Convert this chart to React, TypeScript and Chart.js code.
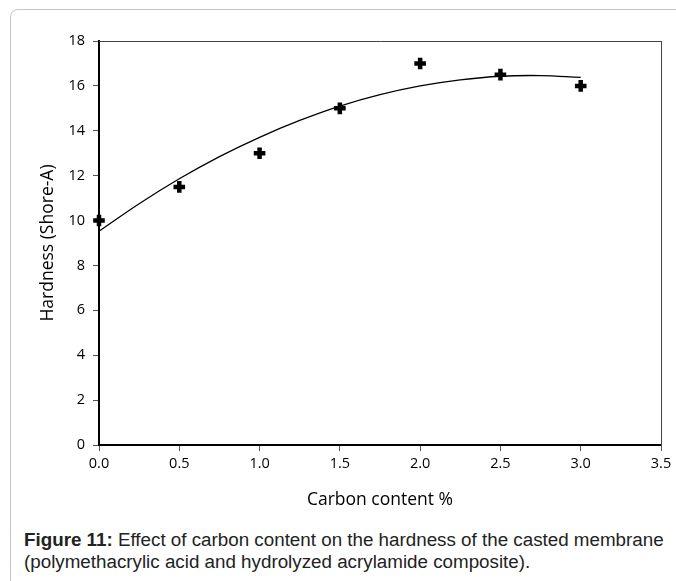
import React, { useEffect, useRef } from "react";
import { Chart, registerables } from "chart.js";

Chart.register(...registerables);

const carbonContent = [0, 0.5, 1.0, 1.5, 2.0, 2.5, 3.0];
const hardness = [10, 11.5, 13, 15, 17, 16.5, 16];

const trendX = [0, 0.25, 0.5, 0.75, 1.0, 1.25, 1.5, 1.75, 2.0, 2.25, 2.5, 2.75, 3.0];
const trendY = [9.52, 10.75, 11.86, 12.85, 13.71, 14.46, 15.1, 15.61, 16.0, 16.27, 16.43, 16.46, 16.38];

const xTicks = [0, 0.5, 1.0, 1.5, 2.0, 2.5, 3.0, 3.5];
const yTicks = [0, 2, 4, 6, 8, 10, 12, 14, 16, 18];

const xTitle = "Carbon content %";
const yTitle = "Hardness (Shore-A)";

const FONT = "'Open Sans', 'Noto Sans', sans-serif";

export default function App() {
  const ref = useRef<HTMLCanvasElement | null>(null);

  useEffect(() => {
    if (!ref.current) return;
    const chart = new Chart(ref.current, {
      type: "scatter",
      data: {
        datasets: [
          {
            label: "Hardness",
            data: carbonContent.map((x, i) => ({ x, y: hardness[i] })),
            pointStyle: "cross",
            pointRadius: 5.8,
            pointBorderWidth: 4.5,
            borderColor: "#000",
            backgroundColor: "#000",
            showLine: false,
            clip: false,
            order: 0,
          },
          {
            label: "Trend",
            data: trendX.map((x, i) => ({ x, y: trendY[i] })),
            showLine: true,
            pointRadius: 0,
            borderColor: "#000",
            borderWidth: 1.3,
            tension: 0.4,
            fill: false,
            order: 1,
          },
        ],
      },
      options: {
        animation: false,
        responsive: false,
        maintainAspectRatio: false,
        layout: { padding: { left: 0, right: 15, top: 41, bottom: 0 } },
        plugins: { legend: { display: false }, tooltip: { enabled: false } },
        scales: {
          x: {
            type: "linear",
            position: "bottom",
            min: 0,
            max: 3.5,
            afterBuildTicks: (s: any) => {
              s.ticks = xTicks.map((v) => ({ value: v }));
            },
            afterFit: (s: any) => {
              s.height = 75;
            },
            ticks: {
              color: "#000",
              font: { family: FONT, size: 14.5 },
              padding: 4,
              callback: (v: any) => Number(v).toFixed(1),
            },
            grid: { drawOnChartArea: false, drawTicks: true, tickLength: 6, color: "#555", lineWidth: 1 },
            border: { color: "#000", width: 2 },
            title: {
              display: true,
              text: xTitle,
              color: "#000",
              font: { family: FONT, size: 17.5 },
              padding: { top: 0, bottom: 9.5 },
            },
          },
          y: {
            type: "linear",
            position: "left",
            min: 0,
            max: 18,
            afterBuildTicks: (s: any) => {
              s.ticks = yTicks.map((v) => ({ value: v }));
            },
            afterFit: (s: any) => {
              s.width = 99;
            },
            ticks: {
              color: "#000",
              font: { family: FONT, size: 14.5 },
              padding: 8,
            },
            grid: { drawOnChartArea: false, drawTicks: true, tickLength: 6, color: "#555", lineWidth: 1 },
            border: { color: "#000", width: 2 },
            title: {
              display: true,
              text: yTitle,
              color: "#000",
              font: { family: FONT, size: 17.5 },
              padding: { top: 38, bottom: 0 },
            },
          },
          xTop: {
            type: "linear",
            position: "top",
            min: 0,
            max: 3.5,
            afterFit: (s: any) => {
              s.height = 0;
            },
            ticks: { display: false },
            grid: { drawOnChartArea: false, drawTicks: false },
            border: { color: "#444", width: 1 },
          },
          yRight: {
            type: "linear",
            position: "right",
            min: 0,
            max: 18,
            afterFit: (s: any) => {
              s.width = 0;
            },
            ticks: { display: false },
            grid: { drawOnChartArea: false, drawTicks: false },
            border: { color: "#444", width: 1 },
          },
        },
      },
    } as any);
    return () => chart.destroy();
  }, []);

  return (
    <div
      style={{
        position: "fixed",
        left: 0,
        top: 0,
        width: 676,
        height: 581,
        overflow: "hidden",
        background: "#fff",
      }}
    >
      <div
        style={{
          position: "absolute",
          left: 10,
          top: 9,
          width: 720,
          height: 700,
          border: "1px solid #c4c4c4",
          borderRadius: 8,
          boxSizing: "border-box",
        }}
      />
      <canvas
        ref={ref}
        width={676}
        height={520}
        style={{ position: "absolute", left: 0, top: 0, width: 676, height: 520 }}
      />
      <div
        style={{
          position: "absolute",
          left: 24,
          top: 529,
          width: 660,
          fontFamily: "'Liberation Sans', Arial, sans-serif",
          fontSize: 18.8,
          lineHeight: "22px",
          color: "#222",
          whiteSpace: "nowrap",
        }}
      >
        <b>Figure 11:</b> Effect of carbon content on the hardness of the casted membrane
        <br />
        (polymethacrylic acid and hydrolyzed acrylamide composite).
      </div>
    </div>
  );
}
